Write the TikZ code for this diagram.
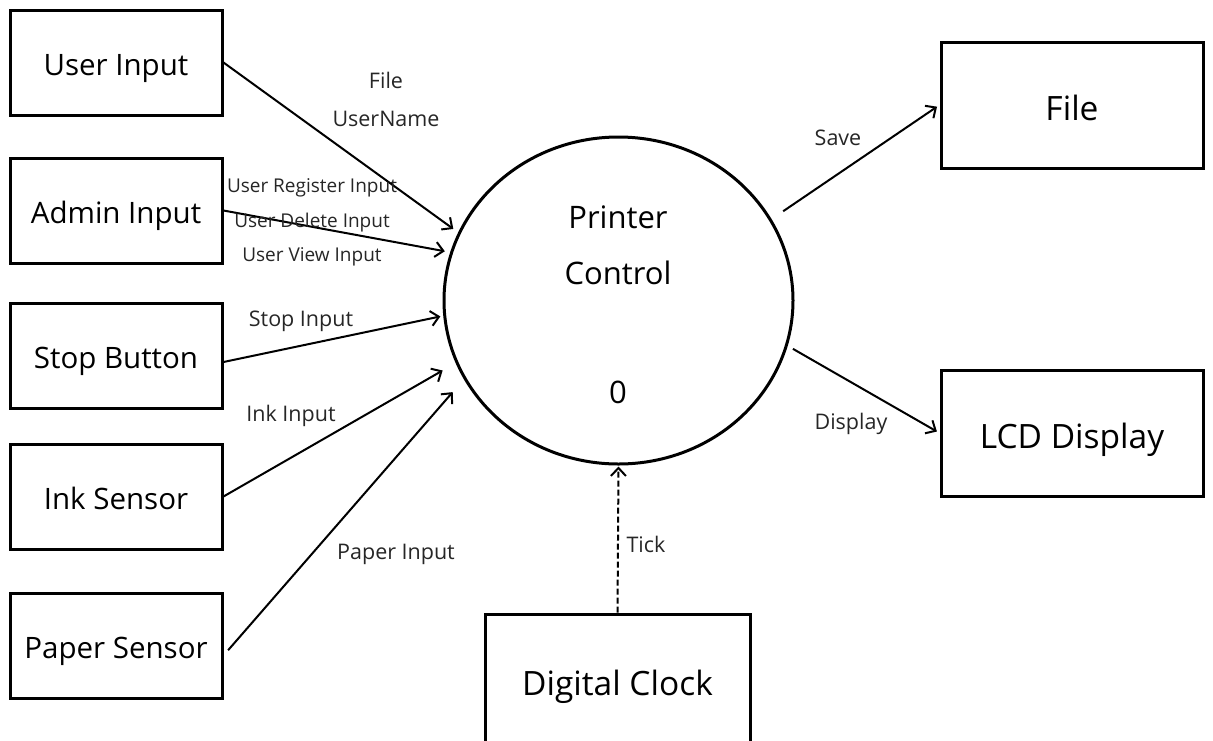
\documentclass[tikz,border=0pt]{standalone}
\usepackage{fontspec}
\setmainfont{Open Sans}
\usetikzlibrary{arrows.meta,shapes.geometric}
\begin{document}
\begin{tikzpicture}[x=1pt,y=-1pt,
  entity/.style={draw, line width=3pt, minimum width=212pt, minimum height=105pt,
    inner sep=0pt, text height=26pt, text depth=0pt,
    font=\fontsize{29.5}{34}\selectfont},
  sink/.style={entity, minimum width=262pt, minimum height=126pt,
    text height=30pt, font=\fontsize{33.5}{38}\selectfont},
  proc/.style={draw, ellipse, line width=3pt, minimum width=349pt,
    minimum height=327pt, inner sep=0pt},
  ptext/.style={inner sep=0pt, font=\fontsize{31}{36}\selectfont},
  flow/.style={line width=2pt, -{Straight Barb[length=8pt,width=15pt,line width=2pt]}},
  lbl/.style={inner sep=0pt, text=black!85, font=\fontsize{21.5}{25}\selectfont},
  slbl/.style={lbl, font=\fontsize{19}{22}\selectfont}
]
\useasboundingbox (0,0) rectangle (1213,740);

% external entities
\node[entity] (ui) at (116,62.5)  {User Input};
\node[entity] (ad) at (116,210.5) {Admin Input};
\node[entity] (sb) at (116,355.5) {Stop Button};
\node[entity] (is) at (116,496.5) {Ink Sensor};
\node[entity] (ps) at (116,645.5) {Paper Sensor};
\node[sink] (fi) at (1072,105) {File};
\node[sink] (lcd) at (1072,433) {LCD Display};
\node[sink, minimum width=265pt, minimum height=132pt] (ck) at (617.5,680) {Digital Clock};

% central process
\node[proc] (pc) at (618.5,300.5) {};
\node[ptext] (p1) at (618,217) {Printer};
\node[ptext] (p2) at (618,273) {Control};
\node[ptext] (p3) at (618,392) {0};

% data flows
\draw[flow, shorten >=6pt] (ui.east) -- (pc.157.5);
\draw[flow, shorten >=5.5pt] (ad.east) -- (pc.164.9);
\draw[flow, shorten >=3pt] ([yshift=-6.5pt]sb.east) -- (pc.185.5);
\draw[flow, shorten >=15pt] (is.east) -- (pc.201.5);
\draw[flow, shorten <=7pt, shorten >=17pt] ([yshift=-10pt]ps.east) -- (pc.207);
\draw[flow, shorten <=14pt, shorten >=3pt] (pc.28) -- (fi.west);
\draw[flow, shorten <=6pt, shorten >=3pt] (pc.345) -- (lcd.west);
\draw[flow, dash pattern=on 6pt off 3pt, shorten >=1pt] (ck.north) -- (pc.south);

% flow labels
\node[lbl] (lfile) at (386,80)  {File};
\node[lbl] (luser) at (386,119) {UserName};
\node[slbl] (lreg)  at (312,188) {User Register Input};
\node[slbl] (ldel)  at (312,223) {User Delete Input};
\node[slbl] (lview) at (312,257) {User View Input};
\node[lbl] (lstop) at (301,321) {Stop Input};
\node[lbl] (link)  at (291,416) {Ink Input};
\node[lbl] (lpap)  at (396,554) {Paper Input};
\node[lbl] (lsave) at (838,138) {Save};
\node[lbl] (ldisp) at (851,424) {Display};
\node[lbl] (ltick) at (646,544) {Tick};
\end{tikzpicture}
\end{document}
